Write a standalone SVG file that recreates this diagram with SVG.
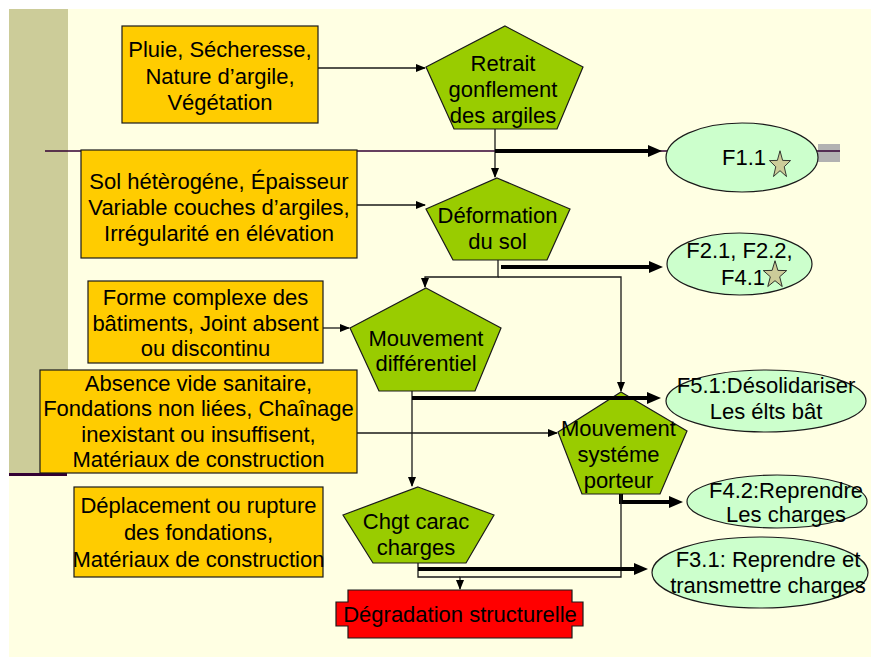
<svg xmlns="http://www.w3.org/2000/svg" width="871" height="657" viewBox="0 0 871 657">
<style>
text{font-family:"Liberation Sans",Arial,sans-serif;font-size:22px;fill:#000;text-anchor:middle}
.box{fill:#FFCC00;stroke:#1a1a1a;stroke-width:1.2}
.pent{fill:#99CC00;stroke:#1a1a1a;stroke-width:1.2}
.ell{fill:#CCFFCC;stroke:#1a1a1a;stroke-width:1.2}
.star{fill:#CCCC99;stroke:#1a1a1a;stroke-width:1}
.thin{fill:none;stroke:#1a1a1a;stroke-width:1.3}
.thick{fill:none;stroke:#000;stroke-width:4}
</style>
<defs>
<marker id="a" markerWidth="10" markerHeight="8" refX="9" refY="4" orient="auto" markerUnits="userSpaceOnUse"><path d="M0,0 L10,4 L0,8 z" fill="#000"/></marker>
<marker id="A" markerWidth="14" markerHeight="12" refX="9" refY="6" orient="auto" markerUnits="userSpaceOnUse"><path d="M0,0 L14,6 L0,12 z" fill="#000"/></marker>
<polygon id="star" points="0,-15 3.53,-4.85 14.27,-4.64 5.71,1.85 8.82,12.14 0,6 -8.82,12.14 -5.71,1.85 -14.27,-4.64 -3.53,-4.85"/>
</defs>
<g id="background">
<rect x="0" y="0" width="871" height="657" fill="#FFFFFF"/>
<rect x="9" y="9" width="862" height="648" fill="#FFFFE3"/>
<rect x="9" y="9" width="59" height="464" fill="#CCCC99"/>
<rect x="9" y="473" width="58" height="3" fill="#330033"/>
<rect x="818" y="144" width="22" height="18" fill="#B2B2B2"/>
<line x1="45" y1="151" x2="840" y2="151" stroke="#330033" stroke-width="1.3"/>
</g>
<g id="box-pluie">
<rect class="box" x="122" y="26" width="196" height="97"/>
<text x="220" y="57">Pluie, Sécheresse,</text>
<text x="220" y="83.5">Nature d’argile,</text>
<text x="220" y="110">Végétation</text>
</g>
<g id="box-sol">
<rect class="box" x="81" y="150" width="276" height="108"/>
<text x="219" y="189">Sol hétèrogéne, Épaisseur</text>
<text x="219" y="215">Variable couches d’argiles,</text>
<text x="219" y="241">Irrégularité en élévation</text>
</g>
<g id="box-forme">
<rect class="box" x="88" y="281" width="235" height="82"/>
<text x="205.5" y="305">Forme complexe des</text>
<text x="205.5" y="331">bâtiments, Joint absent</text>
<text x="205.5" y="356">ou discontinu</text>
</g>
<g id="box-absence">
<rect class="box" x="40" y="370" width="317" height="103"/>
<text x="198.5" y="391">Absence vide sanitaire,</text>
<text x="198.5" y="416">Fondations non liées, Chaînage</text>
<text x="198.5" y="442">inexistant ou insuffisent,</text>
<text x="198.5" y="467">Matériaux de construction</text>
</g>
<g id="box-deplacement">
<rect class="box" x="74" y="487" width="249" height="90"/>
<text x="198.5" y="513">Déplacement ou rupture</text>
<text x="198.5" y="540">des fondations,</text>
<text x="198.5" y="567">Matériaux de construction</text>
</g>
<g id="node-retrait">
<polygon class="pent" points="505,26 583,67 557,129 454,129 426,67"/>
<text x="503" y="71">Retrait</text>
<text x="503" y="97">gonflement</text>
<text x="503" y="123">des argiles</text>
</g>
<g id="node-deformation">
<polygon class="pent" points="497,178 570,209 547,260 453,260 426,209"/>
<text x="497.5" y="223">Déformation</text>
<text x="497.5" y="249">du sol</text>
</g>
<g id="node-mouvement-diff">
<polygon class="pent" points="426,288 501,328 475,391 379,391 350,328"/>
<text x="426" y="346">Mouvement</text>
<text x="426" y="371">différentiel</text>
</g>
<g id="node-mouvement-sys">
<polygon class="pent" points="621,392 687,431 660,494 582,494 558,432"/>
<text x="618.5" y="436">Mouvement</text>
<text x="618.5" y="462">systéme</text>
<text x="618.5" y="488">porteur</text>
</g>
<g id="node-chgt">
<polygon class="pent" points="418,487 494,515 466,563 373,563 343,515"/>
<text x="416" y="529">Chgt carac</text>
<text x="416" y="555">charges</text>
</g>
<g id="node-degradation">
<polygon points="348,590 572,590 572,602 583,602 583,626 572,626 572,638 348,638 348,626 336,626 336,602 348,602" fill="#FF0000" stroke="#1a1a1a" stroke-width="1.2"/>
<text x="460" y="622">Dégradation structurelle</text>
</g>
<g id="node-f11">
<ellipse class="ell" cx="742" cy="157.5" rx="76" ry="34.5"/>
<text x="722" y="165" style="text-anchor:start">F1.1</text>
<use href="#star" class="star" transform="translate(780,165) scale(0.74,0.95)"/>
</g>
<g id="node-f21">
<ellipse class="ell" cx="739.5" cy="264" rx="72.5" ry="31"/>
<text x="739.5" y="258">F2.1, F2.2,</text>
<text x="721" y="285" style="text-anchor:start">F4.1</text>
<use href="#star" class="star" transform="translate(775,275) scale(0.82,0.95)"/>
</g>
<g id="node-f51">
<ellipse class="ell" cx="766" cy="401" rx="100" ry="31"/>
<text x="766" y="393">F5.1:Désolidariser</text>
<text x="766" y="419">Les élts bât</text>
</g>
<g id="node-f42">
<ellipse class="ell" cx="777" cy="501.5" rx="90" ry="26.5"/>
<text x="786" y="498">F4.2:Reprendre</text>
<text x="786" y="522">Les charges</text>
</g>
<g id="node-f31">
<ellipse class="ell" cx="760" cy="572.5" rx="108" ry="35.5"/>
<text x="768" y="567">F3.1: Reprendre et</text>
<text x="768" y="593">transmettre charges</text>
</g>
<g id="connectors">
<path class="thin" d="M318,68 H425" marker-end="url(#a)"/>
<path class="thin" d="M495,129 V177" marker-end="url(#a)"/>
<path class="thick" d="M495,151 H657" marker-end="url(#A)"/>
<path class="thin" d="M357,205 H425" marker-end="url(#a)"/>
<path class="thin" d="M498,260 V277 H425 V287" marker-end="url(#a)"/>
<path class="thin" d="M498,277 H621 V391" marker-end="url(#a)"/>
<path class="thick" d="M501,267 H658" marker-end="url(#A)"/>
<path class="thin" d="M323,328 H349" marker-end="url(#a)"/>
<path class="thin" d="M412,391 V486" marker-end="url(#a)"/>
<path class="thick" d="M412,398 H656" marker-end="url(#A)"/>
<path class="thin" d="M357,433 H557" marker-end="url(#a)"/>
<path class="thick" d="M621,494 V502 H678" marker-end="url(#A)"/>
<path class="thin" d="M621,494 V577 H460 V589" marker-end="url(#a)"/>
<path class="thin" d="M418,563 V577 H460"/>
<path class="thick" d="M418,569 H643" marker-end="url(#A)"/>
</g>
</svg>
